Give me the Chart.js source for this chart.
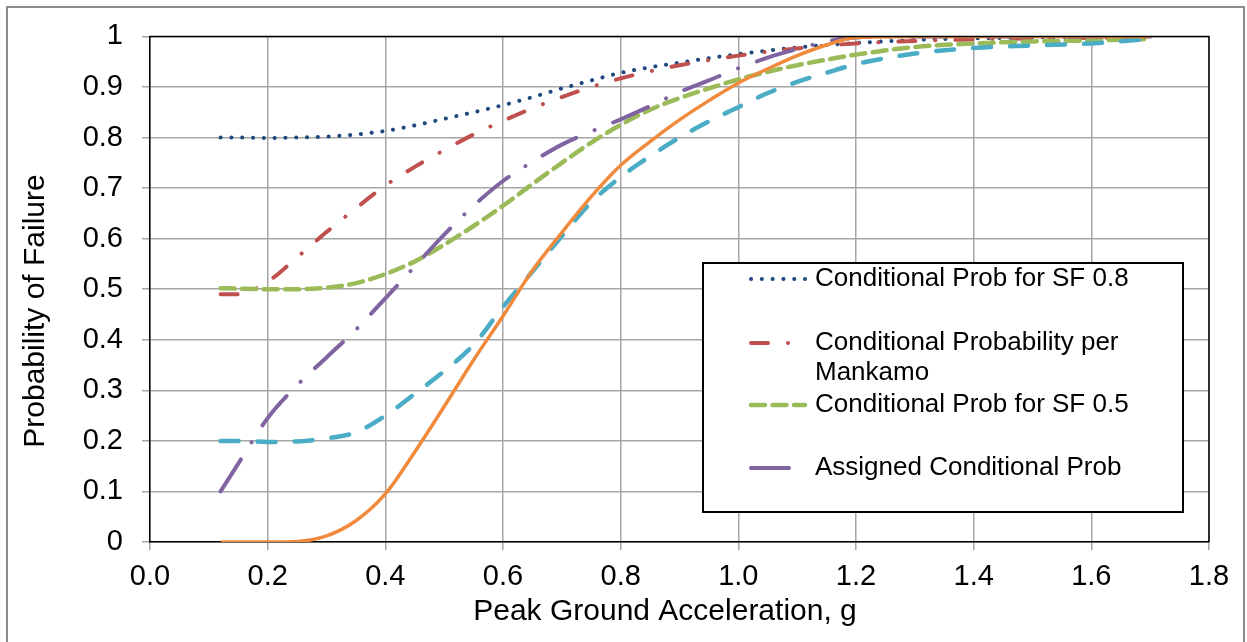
<!DOCTYPE html>
<html>
<head>
<meta charset="utf-8">
<script src="https://cdn.jsdelivr.net/npm/chart.js@4/dist/chart.umd.min.js"></script>
<style>
  html, body { margin: 0; padding: 0; background: #fff; }
  #wrap { position: relative; width: 1247px; height: 642px; overflow: hidden; }
  #frame { position: absolute; left: 6px; top: 6px; width: 1239px; height: 660px; border: 2px solid #8c8c8c; box-sizing: border-box; }
  canvas { position: absolute; left: 0; top: 0; }
</style>
</head>
<body>
<div id="wrap">
  <div id="frame"></div>
  <canvas id="grafico" width="1247" height="642"></canvas>
</div>
<script>
// DADOS
const xs = [0.12, 0.15, 0.2, 0.25, 0.3, 0.35, 0.4, 0.45, 0.5, 0.55, 0.6, 0.65, 0.7, 0.75, 0.8, 0.85, 0.9, 0.95, 1.0, 1.05, 1.1, 1.15, 1.2, 1.3, 1.4, 1.5, 1.6, 1.7];

const sf08 = [0.8, 0.8, 0.799, 0.8, 0.802, 0.806, 0.813, 0.824, 0.837, 0.85, 0.864, 0.88, 0.897, 0.913, 0.928, 0.939, 0.948, 0.957, 0.965, 0.972, 0.978, 0.983, 0.987, 0.993, 0.996, 0.998, 0.999, 1.0];
const mankamo = [0.49, 0.49, 0.515, 0.563, 0.613, 0.66, 0.705, 0.742, 0.775, 0.806, 0.833, 0.858, 0.88, 0.9, 0.917, 0.931, 0.943, 0.953, 0.962, 0.97, 0.976, 0.982, 0.986, 0.991, 0.994, 0.996, 0.997, 0.998];
const sf05 = [0.502, 0.501, 0.5, 0.5, 0.503, 0.512, 0.53, 0.555, 0.588, 0.625, 0.665, 0.708, 0.75, 0.79, 0.825, 0.855, 0.878, 0.897, 0.915, 0.93, 0.943, 0.954, 0.964, 0.979, 0.986, 0.99, 0.992, 0.995];
const atribuida = [0.1, 0.155, 0.245, 0.31, 0.365, 0.42, 0.482, 0.545, 0.608, 0.665, 0.714, 0.752, 0.786, 0.812, 0.836, 0.862, 0.89, 0.913, 0.937, 0.958, 0.975, 0.99, 0.998, 1, 1, 1, 1, 1];
const ciano = [0.2, 0.2, 0.198, 0.199, 0.205, 0.217, 0.25, 0.293, 0.338, 0.39, 0.465, 0.535, 0.605, 0.672, 0.722, 0.763, 0.8, 0.832, 0.86, 0.888, 0.91, 0.928, 0.945, 0.966, 0.977, 0.982, 0.986, 0.995];
const laranja = [0, 0, 0, 0.001, 0.012, 0.042, 0.095, 0.178, 0.268, 0.36, 0.447, 0.537, 0.612, 0.683, 0.745, 0.792, 0.835, 0.873, 0.908, 0.936, 0.962, 0.983, 0.998, 1, 1, 1, 1, 1];

const xTickLabels = ["0.0", "0.2", "0.4", "0.6", "0.8", "1.0", "1.2", "1.4", "1.6", "1.8"];
const yTickLabels = ["0", "0.1", "0.2", "0.3", "0.4", "0.5", "0.6", "0.7", "0.8", "0.9", "1"];

const tituloX = "Peak Ground Acceleration, g";
const tituloY = "Probability of Failure";

const fonte = '"Liberation Sans", Arial, sans-serif';

function pontos(valores) {
  return xs.map((x, i) => ({ x: x, y: valores[i] }));
}

// Legenda desenhada dentro da área do gráfico (só 4 séries aparecem)
const legendaPlugin = {
  id: "legendaInterna",
  afterDraw(chart) {
    const ctx = chart.ctx;
    const area = chart.chartArea;

    // moldura preta da área de plotagem (topo e direita)
    ctx.save();
    ctx.strokeStyle = "#000";
    ctx.lineWidth = 1.5;
    ctx.beginPath();
    ctx.moveTo(area.left, area.top);
    ctx.lineTo(area.right, area.top);
    ctx.lineTo(area.right, area.bottom);
    ctx.stroke();

    // caixa da legenda
    ctx.fillStyle = "#fff";
    ctx.fillRect(703, 263, 480, 249);
    ctx.strokeStyle = "#000";
    ctx.lineWidth = 2;
    ctx.strokeRect(703, 263, 480, 249);

    const linhas = [
      { ds: 0, y: 279, textos: ["Conditional Prob for SF 0.8"] },
      { ds: 1, y: 343, textos: ["Conditional Probability per", "Mankamo"] },
      { ds: 2, y: 405, textos: ["Conditional Prob for SF 0.5"] },
      { ds: 3, y: 468, textos: ["Assigned Conditional Prob"] }
    ];

    linhas.forEach((l) => {
      const d = chart.data.datasets[l.ds];
      ctx.save();
      ctx.strokeStyle = d.borderColor;
      ctx.lineWidth = d.borderWidth;
      ctx.lineCap = "round";
      ctx.setLineDash(d.borderDash || []);
      ctx.beginPath();
      ctx.moveTo(751, l.y);
      ctx.lineTo(805, l.y);
      ctx.stroke();
      ctx.restore();

      ctx.fillStyle = "#000";
      ctx.font = "26px " + fonte;
      ctx.textBaseline = "middle";
      ctx.textAlign = "left";
      l.textos.forEach((t, k) => ctx.fillText(t, 815, l.y + k * 30));
    });

    // títulos dos eixos
    ctx.fillStyle = "#000";
    ctx.font = "30px " + fonte;
    ctx.textAlign = "center";
    ctx.textBaseline = "middle";
    ctx.fillText(tituloX, 665, 612);
    ctx.translate(36, 311);
    ctx.rotate(-Math.PI / 2);
    ctx.fillText(tituloY, 0, 0);
    ctx.restore();
  }
};

const ctx = document.getElementById("grafico");

new Chart(ctx, {
  type: "line",
  data: {
    datasets: [
      {
        label: "Conditional Prob for SF 0.8",
        data: pontos(sf08),
        borderColor: "#1F497D",
        borderWidth: 4,
        borderDash: [0.1, 10.7],
        borderCapStyle: "round",
        order: 6
      },
      {
        label: "Conditional Probability per Mankamo",
        data: pontos(mankamo),
        borderColor: "#C0504D",
        borderWidth: 4,
        borderDash: [17, 20, 0.1, 20],
        borderCapStyle: "round",
        order: 5
      },
      {
        label: "Conditional Prob for SF 0.5",
        data: pontos(sf05),
        borderColor: "#9BBB59",
        borderWidth: 4.5,
        borderDash: [14, 7.5],
        borderCapStyle: "round",
        order: 4
      },
      {
        label: "Assigned Conditional Prob",
        data: pontos(atribuida),
        borderColor: "#8064A2",
        borderWidth: 4,
        borderDash: [38, 20, 0.1, 20],
        borderCapStyle: "round",
        order: 3
      },
      {
        label: "",
        data: pontos(ciano),
        borderColor: "#4BACC6",
        borderWidth: 4.5,
        borderDash: [18, 19],
        borderCapStyle: "round",
        order: 2
      },
      {
        label: "",
        data: pontos(laranja),
        borderColor: "#F08A3C",
        borderWidth: 3.5,
        order: 1
      }
    ]
  },
  options: {
    responsive: false,
    animation: false,
    devicePixelRatio: 1,
    layout: { padding: { left: 0, top: 36, right: 38, bottom: 0 } },
    elements: {
      point: { radius: 0 },
      line: { cubicInterpolationMode: "monotone", fill: false }
    },
    plugins: {
      legend: { display: false },
      tooltip: { enabled: false }
    },
    scales: {
      x: {
        type: "linear",
        min: 0,
        max: 1.8,
        afterFit: (s) => { s.height = 100; },
        afterBuildTicks: (s) => { s.ticks = xTickLabels.map((t) => ({ value: parseFloat(t) })); },
        ticks: {
          padding: 10,
          color: "#000",
          font: { size: 29, family: fonte },
          maxRotation: 0,
          autoSkip: false,
          callback: (v, i) => xTickLabels[i]
        },
        grid: { color: "#a6a6a6", lineWidth: 1.5, tickLength: 8 },
        border: { color: "#000", width: 1.5 }
      },
      y: {
        type: "linear",
        min: 0,
        max: 1,
        afterFit: (s) => { s.width = 150; },
        afterBuildTicks: (s) => { s.ticks = yTickLabels.map((t) => ({ value: parseFloat(t) })); },
        ticks: {
          padding: 19,
          color: "#000",
          font: { size: 29, family: fonte },
          callback: (v, i) => yTickLabels[i]
        },
        grid: { color: "#a6a6a6", lineWidth: 1.5, tickLength: 8 },
        border: { color: "#000", width: 1.5 }
      }
    }
  },
  plugins: [legendaPlugin]
});
</script>
</body>
</html>
